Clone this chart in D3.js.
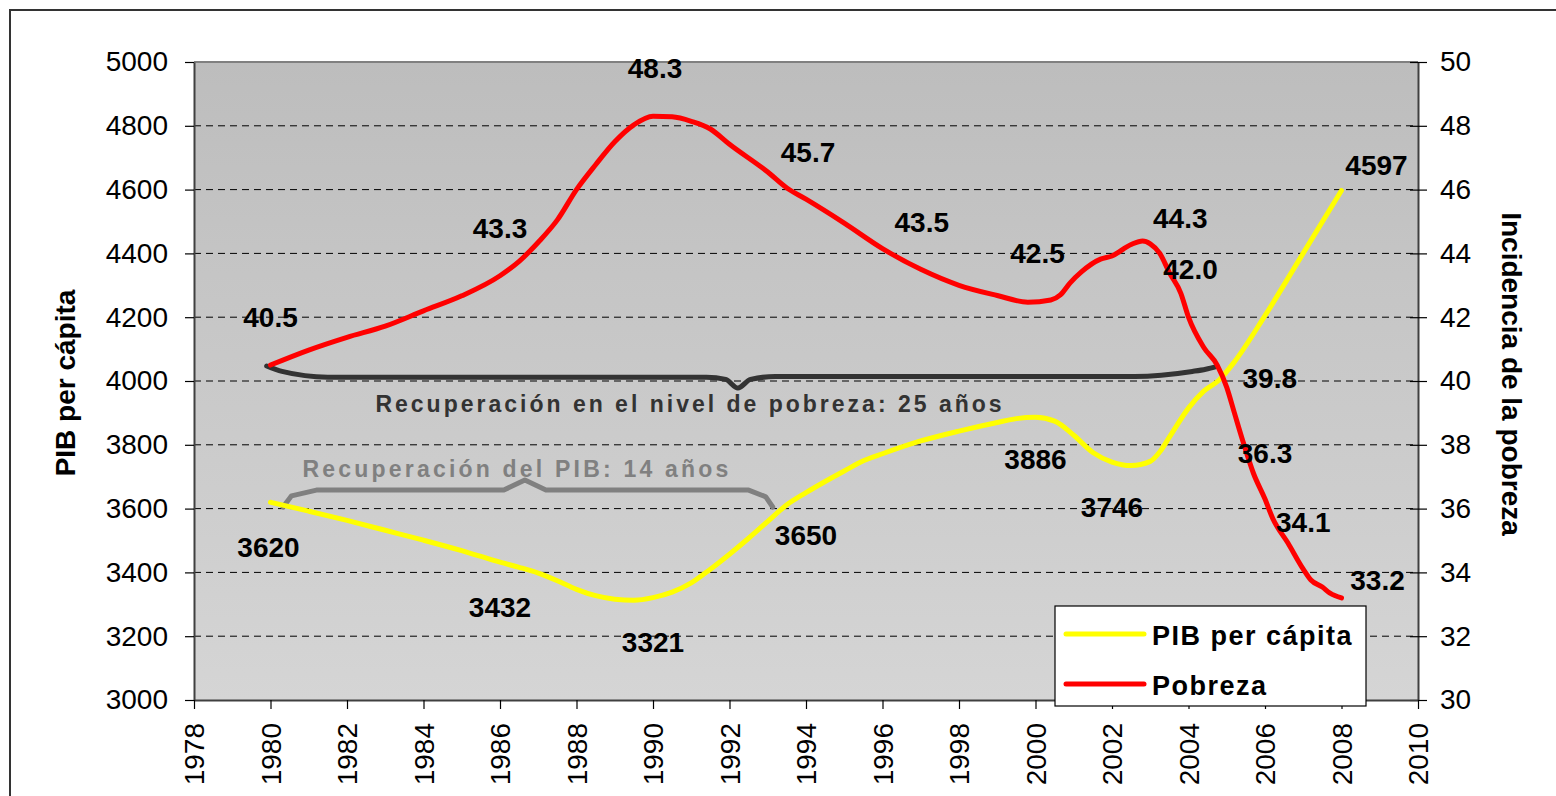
<!DOCTYPE html>
<html>
<head>
<meta charset="utf-8">
<script src="https://cdn.jsdelivr.net/npm/d3@7"></script>
<style>
body { margin: 0; background: #fff; }
svg text { font-family: "Liberation Sans", Arial, sans-serif; }
</style>
</head>
<body>
<div id="chart"></div>
<script>
// PIB per cápita (left axis)
var pibYears = [1980, 1981, 1982, 1983, 1984, 1985, 1985.5, 1986, 1986.5, 1987, 1987.5, 1988, 1988.5, 1989, 1989.5,
    1990, 1990.5, 1991, 1991.5, 1992, 1992.5, 1993, 1993.5, 1994, 1994.5, 1995, 1995.5, 1996, 1997, 1998, 1999,
    1999.5, 2000, 2000.5, 2001, 2001.5, 2002, 2002.5, 2003, 2003.25, 2003.5, 2004, 2004.4, 2004.8, 2005.2, 2006, 2007, 2008];
var pibValues = [3620, 3592, 3563, 3532, 3501, 3468, 3450, 3432, 3416, 3398, 3374, 3347, 3327, 3316, 3313,
    3321, 3338, 3367, 3410, 3457, 3507, 3560, 3612, 3650, 3685, 3718, 3750, 3772, 3812, 3843, 3870,
    3882, 3886, 3874, 3830, 3776, 3746, 3735, 3748, 3778, 3824, 3915, 3968, 4003, 4060, 4205, 4401, 4597];

// Incidencia de la pobreza (right axis)
var pobYears = [1980, 1981, 1982, 1983, 1984, 1985, 1986, 1986.5, 1987, 1987.5, 1988, 1988.5, 1989, 1989.5,
    1990, 1990.5, 1991, 1991.5, 1992, 1993, 1993.5, 1994, 1995, 1996, 1997, 1998, 1999, 1999.8,
    2000.4, 2000.65, 2000.9, 2001.2, 2001.7, 2002, 2002.5, 2002.8, 2003, 2003.25, 2003.5, 2003.8,
    2004, 2004.4, 2004.75, 2005, 2005.2, 2005.4, 2005.7, 2006, 2006.2, 2006.6, 2007, 2007.2, 2007.5, 2007.7, 2008];
var pobValues = [40.5, 40.97, 41.37, 41.72, 42.2, 42.67, 43.3, 43.75, 44.35, 45.05, 46.0, 46.78, 47.5, 48.03,
    48.3, 48.28, 48.14, 47.9, 47.42, 46.55, 46.05, 45.7, 44.95, 44.15, 43.5, 43.0, 42.68, 42.47,
    42.54, 42.7, 43.07, 43.42, 43.82, 43.92, 44.28, 44.39, 44.3, 44.0, 43.4, 42.75,
    42.0, 41.05, 40.5, 39.8, 39.0, 38.2, 37.1, 36.3, 35.7, 34.92, 34.1, 33.76, 33.54, 33.35, 33.2];

// labelled points
var pibLabelYears = [1980, 1986, 1990, 1994, 2000, 2002, 2008];
var pibLabelValues = [3620, 3432, 3321, 3650, 3886, 3746, 4597];
var pobLabelYears = [1980, 1986, 1990, 1994, 1997, 2000, 2003, 2004, 2005, 2006, 2007, 2008];
var pobLabelValues = [40.5, 43.3, 48.3, 45.7, 43.5, 42.5, 44.3, 42.0, 39.8, 36.3, 34.1, 33.2];

var xTicks = d3.range(1978, 2011, 2);
var pibTicks = d3.range(3000, 5001, 200);
var pobTicks = d3.range(30, 51, 2);

var seriesNames = ["PIB per cápita", "Pobreza"];
var seriesColors = ["#ffff00", "#ff0000"];

var totalWidth = 1556, totalHeight = 796;
var margin = { top: 62, left: 194 };
var width = 1224, height = 638;

var svg = d3.select("#chart").append("svg")
    .attr("width", totalWidth)
    .attr("height", totalHeight);

// outer frame
svg.append("rect")
    .attr("x", 10).attr("y", 10)
    .attr("width", 1600).attr("height", 900)
    .attr("fill", "none")
    .attr("stroke", "#333")
    .attr("stroke-width", 2);

var defs = svg.append("defs");
var grad = defs.append("linearGradient")
    .attr("id", "bg").attr("x1", 0).attr("y1", 0).attr("x2", 0).attr("y2", 1);
grad.append("stop").attr("offset", "0%").attr("stop-color", "#bdbdbd");
grad.append("stop").attr("offset", "100%").attr("stop-color", "#d5d5d5");

var g = svg.append("g")
    .attr("transform", "translate(" + margin.left + "," + margin.top + ")");

var x = d3.scaleLinear().domain([1978, 2010]).range([0, width]);
var yL = d3.scaleLinear().domain([3000, 5000]).range([height, 0]);
var yR = d3.scaleLinear().domain([30, 50]).range([height, 0]);

g.append("rect")
    .attr("width", width).attr("height", height)
    .attr("fill", "url(#bg)");

// gridlines
g.selectAll(".grid")
    .data(pibTicks.filter(function(d) { return d > 3000 && d < 5000; }))
    .enter().append("line")
    .attr("class", "grid")
    .attr("x1", 0).attr("x2", width)
    .attr("y1", function(d) { return yL(d); })
    .attr("y2", function(d) { return yL(d); })
    .attr("stroke", "#000")
    .attr("stroke-width", 1)
    .attr("stroke-dasharray", "7,5");

// top border of plot
g.append("line")
    .attr("x1", 0).attr("x2", width).attr("y1", 0).attr("y2", 0)
    .attr("stroke", "#808080").attr("stroke-width", 2);

// braces (annotation)
var darkBrace = [[1979.9, 4047], [1980.3, 4030], [1981.5, 4012], [1991.4, 4012], [1991.9, 4005],
    [1992.22, 3978], [1992.55, 4005], [1993.2, 4014], [2002.6, 4014], [2004.1, 4030], [2004.45, 4037], [2004.75, 4046]];
var grayBrace = [[1980.33, 3605], [1980.55, 3640], [1981.2, 3658], [1986.1, 3658], [1986.65, 3690],
    [1987.2, 3658], [1992.5, 3658], [1992.95, 3637], [1993.13, 3605]];

var braceLine = d3.line()
    .x(function(d) { return x(d[0]); })
    .y(function(d) { return yL(d[1]); });

g.append("path")
    .attr("d", braceLine.curve(d3.curveMonotoneX)(darkBrace))
    .attr("fill", "none")
    .attr("stroke", "#333")
    .attr("stroke-width", 5)
    .attr("stroke-linecap", "round");

g.append("path")
    .attr("d", braceLine.curve(d3.curveLinear)(grayBrace))
    .attr("fill", "none")
    .attr("stroke", "#808080")
    .attr("stroke-width", 5)
    .attr("stroke-linecap", "round")
    .attr("stroke-linejoin", "round");

g.append("text")
    .attr("x", 690 - margin.left).attr("y", 412 - margin.top)
    .attr("text-anchor", "middle")
    .attr("font-size", 23).attr("font-weight", "bold")
    .attr("letter-spacing", 3)
    .attr("fill", "#333")
    .text("Recuperación en el nivel de pobreza: 25 años");

g.append("text")
    .attr("x", 517 - margin.left).attr("y", 477 - margin.top)
    .attr("text-anchor", "middle")
    .attr("font-size", 23).attr("font-weight", "bold")
    .attr("letter-spacing", 3.2)
    .attr("fill", "#808080")
    .text("Recuperación del PIB: 14 años");

// series lines
var pibLine = d3.line()
    .curve(d3.curveMonotoneX)
    .x(function(d, i) { return x(pibYears[i]); })
    .y(function(d) { return yL(d); });

var pobLine = d3.line()
    .curve(d3.curveMonotoneX)
    .x(function(d, i) { return x(pobYears[i]); })
    .y(function(d) { return yR(d); });

g.append("path")
    .attr("d", pibLine(pibValues))
    .attr("fill", "none")
    .attr("stroke", seriesColors[0])
    .attr("stroke-width", 5)
    .attr("stroke-linejoin", "round")
    .attr("stroke-linecap", "round");

g.append("path")
    .attr("d", pobLine(pobValues))
    .attr("fill", "none")
    .attr("stroke", seriesColors[1])
    .attr("stroke-width", 5)
    .attr("stroke-linejoin", "round")
    .attr("stroke-linecap", "round");

// data labels (offsets in px)
var pibOffsets = [[-2, 55], [0, 55], [0, 54], [0, 52], [0, 52], [0, 55], [35, -16]];
var pobOffsets = [[0, -38], [0, -38], [2, -38], [2, -37], [1, -37], [2, -38], [30, -16], [2, -38], [43, 1], [0, -36], [0, -37], [36, -8]];

g.selectAll(".pib-label")
    .data(pibLabelValues)
    .enter().append("text")
    .attr("class", "pib-label")
    .attr("x", function(d, i) { return x(pibLabelYears[i]) + pibOffsets[i][0]; })
    .attr("y", function(d, i) { return yL(d) + pibOffsets[i][1]; })
    .attr("text-anchor", "middle")
    .attr("font-size", 28).attr("font-weight", "bold")
    .attr("fill", "#000")
    .text(function(d) { return d; });

g.selectAll(".pob-label")
    .data(pobLabelValues)
    .enter().append("text")
    .attr("class", "pob-label")
    .attr("x", function(d, i) { return x(pobLabelYears[i]) + pobOffsets[i][0]; })
    .attr("y", function(d, i) { return yR(d) + pobOffsets[i][1]; })
    .attr("text-anchor", "middle")
    .attr("font-size", 28).attr("font-weight", "bold")
    .attr("fill", "#000")
    .text(function(d) { return d3.format(".1f")(d); });

// axes
var yAxisL = d3.axisLeft(yL).tickValues(pibTicks).tickSize(9).tickSizeOuter(0).tickPadding(17).tickFormat(d3.format("d"));
var yAxisR = d3.axisRight(yR).tickValues(pobTicks).tickSize(9).tickSizeOuter(0).tickPadding(13).tickFormat(d3.format("d"));
var xAxis = d3.axisBottom(x).tickValues(xTicks).tickSize(9).tickSizeOuter(0).tickFormat(d3.format("d"));

var gl = g.append("g").attr("class", "y-axis").call(yAxisL);
var gr = g.append("g").attr("class", "y-axis-r").attr("transform", "translate(" + width + ",0)").call(yAxisR);
var gx = g.append("g").attr("class", "x-axis").attr("transform", "translate(0," + height + ")").call(xAxis);

// right ticks cross the axis line
gr.selectAll(".tick line").attr("x1", -8);

[gl, gr, gx].forEach(function(a) {
    a.select(".domain").attr("stroke", "#404040").attr("stroke-width", 2);
    a.selectAll(".tick line").attr("stroke", "#000").attr("stroke-width", 1.2);
    a.selectAll("text").attr("font-size", 28).attr("fill", "#000")
        .style("font-family", "'Liberation Sans', Arial, sans-serif");
});

gx.selectAll(".tick text")
    .attr("transform", "rotate(-90)")
    .attr("x", -23).attr("y", 0)
    .attr("dy", "0.35em")
    .style("text-anchor", "end");

// axis titles
svg.append("text")
    .attr("transform", "translate(75,383) rotate(-90)")
    .attr("text-anchor", "middle")
    .attr("font-size", 28).attr("font-weight", "bold")
    .text("PIB per cápita");

svg.append("text")
    .attr("transform", "translate(1502,374) rotate(90)")
    .attr("text-anchor", "middle")
    .attr("font-size", 28).attr("font-weight", "bold")
    .text("Incidencia de la pobreza");

// legend
var legend = svg.append("g").attr("transform", "translate(1055,606)");
legend.append("rect")
    .attr("width", 311).attr("height", 100)
    .attr("fill", "#fff")
    .attr("stroke", "#000")
    .attr("stroke-width", 1.2);

var items = legend.selectAll(".item")
    .data(seriesNames)
    .enter().append("g")
    .attr("class", "item")
    .attr("transform", function(d, i) { return "translate(0," + (28 + i * 50) + ")"; });

items.append("line")
    .attr("x1", 11).attr("x2", 89)
    .attr("stroke", function(d, i) { return seriesColors[i]; })
    .attr("stroke-width", 5)
    .attr("stroke-linecap", "round");

items.append("text")
    .attr("x", 97).attr("y", 11)
    .attr("font-size", 27).attr("font-weight", "bold")
    .attr("letter-spacing", 1.5)
    .text(function(d) { return d; });
</script>
</body>
</html>
